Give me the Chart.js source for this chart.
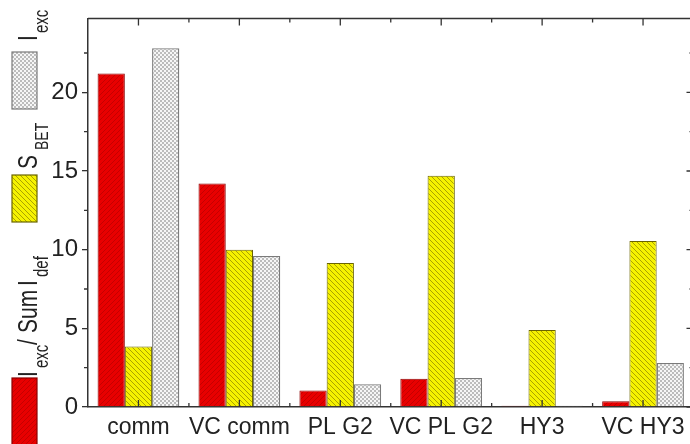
<!DOCTYPE html>
<html>
<head>
<meta charset="utf-8">
<script src="https://cdn.jsdelivr.net/npm/chart.js@4/dist/chart.umd.min.js"></script>
<style>
html,body{margin:0;padding:0;background:#fff;overflow:hidden;}
#wrap{width:700px;height:444px;}
</style>
</head>
<body>
<div id="wrap"><canvas id="c" width="700" height="444"></canvas></div>
<script>
// ---- data ----
const categories = ['comm', 'VC comm', 'PL G2', 'VC PL G2', 'HY3', 'VC HY3'];
const ratioValues = [21.2, 14.2, 1.05, 1.8, 0.08, 0.36];   // I_exc / Sum I_def
const sbetValues  = [3.85, 10.0, 9.15, 14.7, 4.9, 10.55];  // S_BET
const iexcValues  = [22.8, 9.6, 1.45, 1.85, 0.08, 2.8];    // I_exc
const yMin = 0, yMax = 24.7, yStep = 5, yMinorStep = 2.5;

const canvas = document.getElementById('c');
const ctx = canvas.getContext('2d');

function hatch(bg, line, dir, p, lw) {
  const c = document.createElement('canvas');
  c.width = c.height = p;
  const g = c.getContext('2d');
  g.fillStyle = bg; g.fillRect(0, 0, p, p);
  g.strokeStyle = line; g.lineWidth = lw;
  g.beginPath();
  for (let o = -p; o <= 2 * p; o += p) {
    if (dir > 0) { g.moveTo(o, p); g.lineTo(o + p, 0); }
    else { g.moveTo(o, 0); g.lineTo(o + p, p); }
  }
  g.stroke();
  return ctx.createPattern(c, 'repeat');
}
function checker() {
  const c = document.createElement('canvas');
  c.width = c.height = 4;
  const g = c.getContext('2d');
  g.fillStyle = '#f6f6f6'; g.fillRect(0, 0, 4, 4);
  g.fillStyle = '#bcbcbc'; g.fillRect(0, 0, 2, 2); g.fillRect(2, 2, 2, 2);
  return ctx.createPattern(c, 'repeat');
}
const redFill = hatch('#e80000', '#c40000', 1, 5, 1);
const yelFill = hatch('#f6f200', '#aaa200', -1, 5, 1);
const greyFill = checker();
const redBorder = '#8a0000', yelBorder = '#6a6400', greyBorder = '#7a7a7a';
const axisColor = '#333';
const FONT = '"Liberation Sans", Arial, sans-serif';

const axesPlugin = {
  id: 'axesExtra',
  afterDatasetsDraw(chart) {
    const c = chart.ctx, a = chart.chartArea, x = chart.scales.x, y = chart.scales.y;
    c.save();
    c.strokeStyle = axisColor; c.lineWidth = 1.5;
    c.beginPath();
    c.moveTo(a.left, a.top); c.lineTo(a.right, a.top);
    c.moveTo(a.right, a.top); c.lineTo(a.right, a.bottom);
    c.stroke();
    c.lineWidth = 1.3;
    const half = (x.getPixelForValue(1) - x.getPixelForValue(0)) / 2;
    c.beginPath();
    for (let i = 0; i < categories.length; i++) {
      const px = x.getPixelForValue(i);
      c.moveTo(px, a.top); c.lineTo(px, a.top + 7);
      c.moveTo(px, a.bottom); c.lineTo(px, a.bottom - 7);
      const bx = px + half;
      c.moveTo(bx, a.top); c.lineTo(bx, a.top + 4);
      c.moveTo(bx, a.bottom); c.lineTo(bx, a.bottom - 4);
    }
    for (let v = yMin; v <= yMax; v += yMinorStep) {
      const py = y.getPixelForValue(v);
      const major = Math.abs(v % yStep) < 1e-6;
      if (!major) { c.moveTo(a.left, py); c.lineTo(a.left - 4, py); }
      c.moveTo(a.right, py); c.lineTo(a.right - (major ? 7 : 4), py);
    }
    c.stroke();
    c.restore();
  },
  afterDraw(chart) {
    const c = chart.ctx;
    const rot = (text, size, bx, ys) => {
      c.save();
      c.translate(bx, ys);
      c.rotate(-Math.PI / 2);
      c.scale(1, 1.3);
      c.font = size + 'px ' + FONT;
      c.fillStyle = '#222';
      c.textAlign = 'left'; c.textBaseline = 'alphabetic';
      c.fillText(text, 0, 0);
      c.restore();
    };
    const box = (fill, border, y0, h) => {
      c.save();
      c.fillStyle = fill; c.fillRect(12, y0, 25, h);
      c.strokeStyle = border; c.lineWidth = 1.2; c.strokeRect(12, y0, 25, h);
      c.restore();
    };
    box(redFill, redBorder, 378, 80);
    rot('I', 21, 37, 377);
    rot('exc', 15, 48, 368);
    rot('/', 21, 37, 345);
    rot('Sum', 21, 37, 333);
    rot('I', 21, 37, 286);
    rot('def', 15, 48, 277);
    box(yelFill, yelBorder, 175, 47);
    rot('S', 21, 37, 169);
    rot('BET', 14, 48, 150);
    box(greyFill, greyBorder, 52, 57);
    rot('I', 21, 37, 41);
    rot('exc', 15, 48, 33);
  }
};

new Chart(canvas, {
  type: 'bar',
  data: {
    labels: categories,
    datasets: [
      { label: 'I_exc / Sum I_def', data: ratioValues, backgroundColor: redFill, borderColor: redBorder, borderWidth: 1 },
      { label: 'S_BET', data: sbetValues, backgroundColor: yelFill, borderColor: yelBorder, borderWidth: 1 },
      { label: 'I_exc', data: iexcValues, backgroundColor: greyFill, borderColor: greyBorder, borderWidth: 1.3 }
    ]
  },
  options: {
    responsive: false,
    animation: false,
    layout: { padding: { left: 0, top: 13, right: 6.5, bottom: 0 } },
    plugins: { legend: { display: false }, tooltip: { enabled: false } },
    datasets: { bar: { categoryPercentage: 0.81, barPercentage: 1.0 } },
    scales: {
      x: {
        grid: { display: false, drawTicks: false },
        border: { display: true, color: axisColor, width: 1.5 },
        ticks: { color: '#222', font: { family: FONT, size: 23 }, padding: 7, maxRotation: 0, autoSkip: false },
        afterFit(s) { s.height = 37; }
      },
      y: {
        min: yMin, max: yMax,
        grid: { drawOnChartArea: false, drawTicks: true, tickLength: 6, color: axisColor, lineWidth: 1.3 },
        border: { display: true, color: axisColor, width: 1.5 },
        ticks: { stepSize: yStep, includeBounds: false, color: '#222', padding: 4, font: { family: FONT, size: 24 } },
        afterFit(s) { s.width = 88; }
      }
    }
  },
  plugins: [axesPlugin]
});
</script>
</body>
</html>
